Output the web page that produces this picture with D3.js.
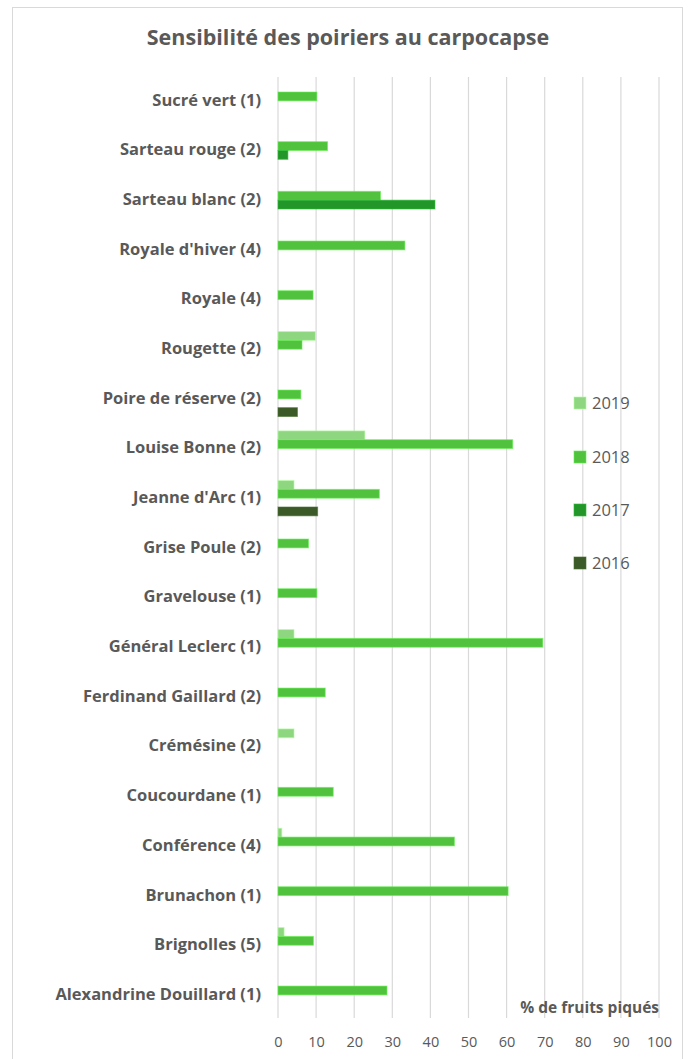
<!DOCTYPE html>
<html>
<head>
<meta charset="utf-8">
<script src="https://cdn.jsdelivr.net/npm/d3@7"></script>
<style>
  html, body { margin: 0; padding: 0; background: #fff; }
  svg { display: block; }
</style>
</head>
<body>
<script>
// Pear varieties (number of trees), top to bottom
const categories = [
  "Sucré vert (1)", "Sarteau rouge (2)", "Sarteau blanc (2)", "Royale d'hiver (4)",
  "Royale (4)", "Rougette (2)", "Poire de réserve (2)", "Louise Bonne (2)",
  "Jeanne d'Arc (1)", "Grise Poule (2)", "Gravelouse (1)", "Général Leclerc (1)",
  "Ferdinand Gaillard (2)", "Crémésine (2)", "Coucourdane (1)", "Conférence (4)",
  "Brunachon (1)", "Brignolles (5)", "Alexandrine Douillard (1)"
];
const years = ["2019", "2018", "2017", "2016"];

// % of damaged fruits per year (null = no data)
const v2019 = [null, null, null, null, null, 9.8, null, 22.8, 4.2, null, null, 4.2, null, 4.2, null, 1.0, null, 1.6, null];
const v2018 = [10.2, 13.0, 26.9, 33.3, 9.2, 6.3, 6.0, 61.6, 26.6, 8.0, 10.2, 69.5, 12.4, null, 14.5, 46.3, 60.4, 9.3, 28.6];
const v2017 = [null, 2.6, 41.2, null, null, null, null, null, null, null, null, null, null, null, null, null, null, null, null];
const v2016 = [null, null, null, null, null, null, 5.1, null, 10.4, null, null, null, null, null, null, null, null, null, null];

const xTicks = [0, 10, 20, 30, 40, 50, 60, 70, 80, 90, 100];
const colors = ["#8fd680", "#50c23e", "#23962a", "#3b5a27"];

const W = 689, H = 1059;
const FONT = "'Open Sans', 'Noto Sans', sans-serif";
const svg = d3.select("body").append("svg").attr("width", W).attr("height", H);

const series = [v2019, v2018, v2017, v2016];
const rows = categories.map((c, i) => ({
  cat: c,
  vals: years.map((y, k) => ({ year: y, k, v: series[k][i] }))
}));

// frame
svg.append("rect")
  .attr("x", 12.5).attr("y", 7.5).attr("width", 670).attr("height", H)
  .attr("fill", "none").attr("stroke", "#d9d9d9").attr("stroke-width", 1);

const x = d3.scaleLinear().domain([0, 100]).range([278, 659]);
const y = d3.scaleBand().domain(categories).range([76, 76 + 19 * 49.67]).paddingInner(0.29).paddingOuter(0.145);
const ySub = d3.scaleBand().domain(years).range([0, y.bandwidth()]);

// vertical gridlines
svg.append("g").selectAll("line").data(xTicks).join("line")
  .attr("x1", d => x(d)).attr("x2", d => x(d))
  .attr("y1", 77).attr("y2", 1018)
  .attr("stroke", "#d9d9d9").attr("stroke-width", 1.2);

// title
svg.append("text")
  .attr("x", 348).attr("y", 45)
  .attr("text-anchor", "middle")
  .attr("font-family", FONT)
  .attr("font-weight", "bold")
  .attr("font-size", 21.5)
  .attr("fill", "#595959")
  .text("Sensibilité des poiriers au carpocapse");

// bars
const g = svg.append("g").selectAll("g").data(rows).join("g")
  .attr("transform", d => `translate(0,${y(d.cat)})`);

g.selectAll("rect").data(d => d.vals.filter(e => e.v != null)).join("rect")
  .attr("x", x(0))
  .attr("y", d => ySub(d.year))
  .attr("width", d => x(d.v) - x(0))
  .attr("height", ySub.bandwidth())
  .attr("fill", d => colors[d.k])
  .attr("stroke", d => d3.color(colors[d.k]).brighter(0.6))
  .attr("stroke-opacity", 0.6)
  .attr("stroke-width", 1);

// category labels
const yAxis = d3.axisLeft(y).tickSize(0).tickPadding(0);
const ya = svg.append("g").attr("transform", "translate(261,0)").call(yAxis);
ya.select(".domain").remove();
ya.selectAll("text")
  .attr("font-family", FONT)
  .attr("font-weight", "bold")
  .attr("font-size", 16.5)
  .attr("fill", "#595959")
  .attr("dy", "0.3em");

// x tick labels
const xAxis = d3.axisBottom(x).tickValues(xTicks).tickSize(0).tickPadding(0);
const xa = svg.append("g").attr("transform", "translate(0,1042)").call(xAxis);
xa.select(".domain").remove();
xa.selectAll("text")
  .attr("font-family", FONT)
  .attr("font-size", 14.5)
  .attr("fill", "#595959")
  .attr("dy", "0.35em");

// axis title
svg.append("text")
  .attr("x", 659).attr("y", 1013)
  .attr("text-anchor", "end")
  .attr("font-family", FONT)
  .attr("font-weight", "bold")
  .attr("font-size", 15.5)
  .attr("fill", "#595959")
  .text("% de fruits piqués");

// legend
const legY = [403, 457, 510, 563];
const leg = svg.append("g").selectAll("g").data(years).join("g")
  .attr("transform", (d, i) => `translate(574,${legY[i]})`);
leg.append("rect")
  .attr("x", 0).attr("y", -6).attr("width", 12).attr("height", 12)
  .attr("fill", (d, i) => colors[i])
  .attr("stroke", (d, i) => d3.color(colors[i]).brighter(0.6))
  .attr("stroke-opacity", 0.6);
leg.append("text")
  .attr("x", 18).attr("dy", "0.36em")
  .attr("font-family", FONT)
  .attr("font-size", 16.5)
  .attr("fill", "#595959")
  .text(d => d);
</script>
</body>
</html>
